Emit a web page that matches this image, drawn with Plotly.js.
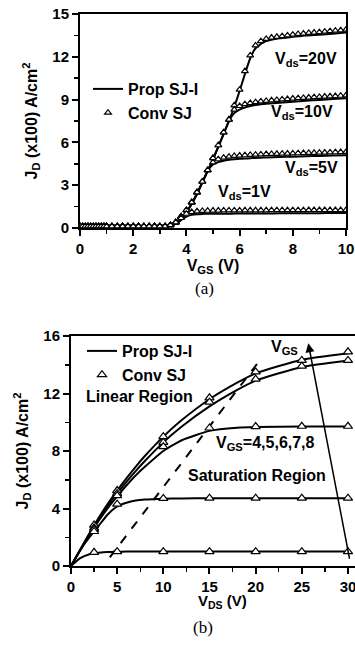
<!DOCTYPE html>
<html>
<head>
<meta charset="utf-8">
<script src="https://cdn.plot.ly/plotly-3.0.1.min.js"></script>
<style>html,body{margin:0;padding:0;background:#fff;}#chart{width:355px;height:648px;}</style>
</head>
<body>
<div id="chart"></div>
<script>
// ---------- (a) transfer characteristics: J_D vs V_GS ----------
const xPropA = [0,1,2,3,3.4,3.6,3.8,4.0,4.2,4.4,4.6,4.8,5.0,5.2,5.4,5.6,5.8,6.0,6.2,6.4,6.6,6.8,7.0,7.5,8.0,8.5,9.0,9.5,10.0];
const propA20 = [0.15,0.15,0.15,0.15,0.17,0.3,0.6,1.1,1.7,2.4,3.2,4.0,4.8,5.7,6.6,7.5,8.5,9.6,10.8,11.9,12.6,12.9,13.1,13.3,13.4,13.5,13.55,13.62,13.7];
const propA10 = [0.15,0.15,0.15,0.15,0.17,0.3,0.6,1.1,1.7,2.4,3.2,4.0,4.8,5.7,6.6,7.5,8.05,8.3,8.45,8.55,8.62,8.67,8.71,8.78,8.85,8.92,8.98,9.04,9.1];
const propA5  = [0.15,0.15,0.15,0.15,0.17,0.3,0.6,1.1,1.7,2.4,3.2,4.0,4.45,4.62,4.72,4.78,4.82,4.85,4.87,4.89,4.91,4.93,4.95,4.98,5.0,5.03,5.05,5.08,5.1];
const propA1  = [0.15,0.15,0.15,0.15,0.17,0.3,0.55,0.8,0.92,0.97,0.99,1.0,1.0,1.0,1.0,1.0,1.01,1.01,1.01,1.01,1.02,1.02,1.02,1.03,1.03,1.04,1.04,1.05,1.05];

const xConvA = [0,0.1,0.2,0.3,0.4,0.5,0.6,0.7,0.8,0.9,
  1.0,1.2,1.4,1.6,1.8,2.0,2.2,2.4,2.6,2.8,3.0,3.2,
  3.4,3.6,3.8,4.0,4.2,4.4,4.6,4.8,5.0,5.2,5.4,5.6,5.8,6.0,6.2,6.4,6.6,6.8,7.0,7.2,
  7.4,7.6,7.8,8.0,8.2,8.4,8.6,8.8,9.0,9.2,9.4,9.6,9.8,10.0];
const convA20 = [0.12,0.12,0.12,0.12,0.12,0.12,0.12,0.12,0.12,0.12,
  0.12,0.12,0.12,0.12,0.12,0.12,0.12,0.12,0.12,0.12,0.12,0.12,
  0.2,0.4,0.8,1.25,1.8,2.5,3.25,4.05,4.9,5.8,6.7,7.6,8.6,9.7,11.0,12.1,12.8,13.1,13.25,13.35,
  13.4,13.45,13.5,13.55,13.6,13.63,13.67,13.7,13.73,13.76,13.8,13.83,13.86,13.9];
const convA10 = [0.12,0.12,0.12,0.12,0.12,0.12,0.12,0.12,0.12,0.12,
  0.12,0.12,0.12,0.12,0.12,0.12,0.12,0.12,0.12,0.12,0.12,0.12,
  0.2,0.4,0.8,1.25,1.8,2.5,3.25,4.05,4.9,5.8,6.7,7.6,8.3,8.55,8.68,8.76,8.82,8.87,8.91,8.95,
  8.98,9.01,9.04,9.07,9.1,9.12,9.14,9.17,9.19,9.21,9.23,9.25,9.27,9.3];
const convA5 = [0.12,0.12,0.12,0.12,0.12,0.12,0.12,0.12,0.12,0.12,
  0.12,0.12,0.12,0.12,0.12,0.12,0.12,0.12,0.12,0.12,0.12,0.12,
  0.2,0.4,0.8,1.25,1.8,2.5,3.25,4.05,4.6,4.82,4.93,5.0,5.05,5.08,5.1,5.12,5.14,5.16,5.18,5.19,
  5.2,5.21,5.22,5.23,5.24,5.25,5.26,5.27,5.28,5.29,5.3,5.31,5.32,5.33];
const convA1 = [0.12,0.12,0.12,0.12,0.12,0.12,0.12,0.12,0.12,0.12,
  0.12,0.12,0.12,0.12,0.12,0.12,0.12,0.12,0.12,0.12,0.12,0.12,
  0.2,0.4,0.7,1.0,1.12,1.17,1.2,1.21,1.22,1.22,1.23,1.23,1.23,1.23,1.24,1.24,1.24,1.24,1.24,1.25,
  1.25,1.25,1.25,1.25,1.25,1.25,1.26,1.26,1.26,1.26,1.26,1.26,1.26,1.26];

const labelsA = ['V<sub>ds</sub>=20V','V<sub>ds</sub>=10V','V<sub>ds</sub>=5V','V<sub>ds</sub>=1V'];
const labelPosA = [[8.5,11.8],[8.35,8.1],[8.7,4.2],[6.2,2.5]];

// ---------- (b) output characteristics: J_D vs V_DS ----------
const xPropB = [0,1,2,2.5,3,4,5,6,7,8,10,12,15,18,20,25,30];
const propB4 = [0,0.55,0.82,0.88,0.92,0.97,0.99,1.0,1.0,1.0,1.0,1.0,1.0,1.0,1.0,1.0,1.0];
const propB5 = [0,1.1,2.0,2.4,2.8,3.6,4.15,4.4,4.55,4.62,4.68,4.7,4.71,4.72,4.72,4.72,4.72];
const propB6 = [0,1.1,2.15,2.65,3.15,4.05,4.85,5.6,6.3,6.9,8.0,8.75,9.4,9.62,9.67,9.7,9.7];
const propB7 = [0,1.12,2.22,2.75,3.25,4.2,5.05,5.85,6.6,7.3,8.6,9.7,11.1,12.25,12.9,13.85,14.3];
const propB8 = [0,1.15,2.28,2.82,3.35,4.35,5.25,6.1,6.9,7.65,9.0,10.15,11.6,12.75,13.4,14.35,14.8];

const xConvB = [2.5,5,10,15,20,25,30];
const convB4 = [0.95,1.0,1.0,1.0,1.0,1.0,1.0];
const convB5 = [2.4,4.3,4.7,4.72,4.72,4.72,4.72];
const convB6 = [2.55,4.9,8.3,9.6,9.7,9.72,9.72];
const convB7 = [2.65,5.05,8.6,11.4,13.0,13.9,14.3];
const convB8 = [2.85,5.25,9.0,11.7,13.5,14.3,14.9];

const boundaryX = [4.2,20.2];
const boundaryY = [0.6,14.1];
const arrowTail = [30.2,0.4];
const arrowHead = [25.7,15.5];

// ---------- build ----------
const FONT = 'Liberation Sans, Arial, Helvetica, sans-serif';
const traces = [];
function lineTrace(x,y,xa,ya,leg,show){
  return {x:x,y:y,xaxis:xa,yaxis:ya,type:'scatter',mode:'lines',name:'Prop SJ-I',
    line:{color:'black',width:2,shape:'spline',smoothing:0.5},legend:leg,showlegend:show};
}
function markTrace(x,y,xa,ya,leg,show,size){
  return {x:x,y:y,xaxis:xa,yaxis:ya,type:'scatter',mode:'markers',name:'Conv SJ',
    marker:{symbol:'triangle-up',size:size,color:'white',line:{color:'black',width:1.2}},
    legend:leg,showlegend:show};
}
[propA20,propA10,propA5,propA1].forEach((y,i)=>traces.push(lineTrace(xPropA,y,'x','y','legend',i===0)));
[convA20,convA10,convA5,convA1].forEach((y,i)=>traces.push(markTrace(xConvA,y,'x','y','legend',i===0,6)));
traces.push({x:boundaryX,y:boundaryY,xaxis:'x2',yaxis:'y2',type:'scatter',mode:'lines',
  line:{color:'black',width:2,dash:'dash'},showlegend:false,hoverinfo:'skip'});
[propB8,propB7,propB6,propB5,propB4].forEach((y,i)=>traces.push(lineTrace(xPropB,y,'x2','y2','legend2',i===0)));
[convB8,convB7,convB6,convB5,convB4].forEach((y,i)=>traces.push(markTrace(xConvB,y,'x2','y2','legend2',i===0,8)));

function axisBase(o){
  return Object.assign({showline:true,linewidth:2,linecolor:'black',mirror:true,showgrid:false,zeroline:false,
    ticks:'outside',ticklen:6,tickwidth:2,tickcolor:'black',
    tickfont:{family:FONT,size:15,weight:700,color:'black'}},o);
}
function mirrorAxis(o){
  return Object.assign({showline:false,showgrid:false,zeroline:false,showticklabels:false,
    ticks:'inside',ticklen:5,tickwidth:1.5,tickcolor:'black',fixedrange:true},o);
}

const xDomA=[80/355,346/355], yDomA=[420/648,634/648];
const xDomB=[71/355,1.0], yDomB=[82/648,312/648];
const xRangeB=[0,30.76];

const titleFont = {family:FONT,size:16,weight:700,color:'black'};
const annotations = [];
labelsA.forEach((t,i)=>annotations.push({xref:'x',yref:'y',x:labelPosA[i][0],y:labelPosA[i][1],text:t,showarrow:false,
  font:{family:FONT,size:16,weight:700,color:'black'}}));
annotations.push({xref:'x2',yref:'y2',x:7.4,y:11.8,text:'Linear Region',showarrow:false,font:{family:FONT,size:16,weight:700}});
annotations.push({xref:'x2',yref:'y2',x:21.1,y:8.5,text:'V<sub>GS</sub>=4,5,6,7,8',showarrow:false,font:{family:FONT,size:16,weight:700}});
annotations.push({xref:'x2',yref:'y2',x:20.1,y:6.3,text:'Saturation Region',showarrow:false,font:{family:FONT,size:16,weight:700}});
annotations.push({xref:'x2',yref:'y2',x:23.1,y:15.2,text:'V<sub>GS</sub>',showarrow:false,font:{family:FONT,size:16,weight:700}});
annotations.push({xref:'x2',yref:'y2',axref:'x2',ayref:'y2',x:arrowHead[0],y:arrowHead[1],ax:arrowTail[0],ay:arrowTail[1],
  text:'',showarrow:true,arrowhead:2,arrowsize:1.2,arrowwidth:1.5,arrowcolor:'black'});
// x-axis title of panel (b), placed as in the reference
annotations.push({xref:'paper',yref:'paper',x:222/355,y:(648-591)/648,yanchor:'top',borderpad:0,
  text:'V<sub>DS</sub> (V)',showarrow:false,font:{family:FONT,size:15,weight:700,color:'black'}});
annotations.push({xref:'paper',yref:'paper',x:204/355,y:(648-288)/648,text:'(a)',showarrow:false,
  font:{family:'Liberation Serif, Times New Roman, serif',size:17,color:'black'}});
annotations.push({xref:'paper',yref:'paper',x:203/355,y:(648-617)/648,yanchor:'top',text:'(b)',showarrow:false,borderpad:0,
  font:{family:'Liberation Serif, Times New Roman, serif',size:17,color:'black'}});

const NB = '\u00a0';
const layout = {
  width:355,height:648,margin:{l:0,r:0,t:0,b:0},paper_bgcolor:'white',plot_bgcolor:'white',
  font:{family:FONT,color:'black'},
  xaxis: axisBase({domain:xDomA,range:[0,10],anchor:'y',dtick:2,tick0:0,
    minor:{dtick:1,ticks:'outside',ticklen:4,tickwidth:1.5,tickcolor:'black'},
    title:{text:'V<sub>GS</sub> (V)',font:titleFont,standoff:3}}),
  yaxis: axisBase({domain:yDomA,range:[0,15],anchor:'x',dtick:3,tick0:0,
    minor:{dtick:1.5,ticks:'outside',ticklen:4,tickwidth:1.5,tickcolor:'black'},
    title:{text:'J<sub>D</sub> (x100) A/cm<sup>2</sup>'+NB.repeat(4),font:titleFont}}),
  xaxis2: axisBase({domain:xDomB,range:xRangeB,anchor:'y2',dtick:5,tick0:0,ticklabeloverflow:'allow',
    minor:{dtick:2.5,ticks:'outside',ticklen:4,tickwidth:1.5,tickcolor:'black'}}),
  yaxis2: axisBase({domain:yDomB,range:[0,16],anchor:'x2',dtick:4,tick0:0,
    minor:{dtick:2,ticks:'outside',ticklen:4,tickwidth:1.5,tickcolor:'black'},
    title:{text:'J<sub>D</sub> (x100) A/cm<sup>2</sup>'+NB.repeat(6),font:titleFont}}),
  xaxis3: mirrorAxis({overlaying:'x',anchor:'y',side:'top',range:[0,10],dtick:1,tick0:0}),
  yaxis3: mirrorAxis({overlaying:'y',anchor:'x',side:'right',range:[0,15],dtick:1.5,tick0:0}),
  xaxis4: mirrorAxis({overlaying:'x2',anchor:'y2',side:'top',range:xRangeB,dtick:2.5,tick0:0}),
  legend:{x:88/355,y:(648-72)/648,xanchor:'left',yanchor:'top',bgcolor:'rgba(0,0,0,0)',
    font:{family:FONT,size:16,weight:700,color:'black'},tracegroupgap:0,itemwidth:30},
  legend2:{x:82/355,y:(648-334)/648,xanchor:'left',yanchor:'top',bgcolor:'rgba(0,0,0,0)',
    font:{family:FONT,size:16,weight:700,color:'black'},tracegroupgap:0,itemwidth:30},
  annotations:annotations
};
Plotly.newPlot('chart',traces,layout,{staticPlot:true,displayModeBar:false});
</script>
</body>
</html>
